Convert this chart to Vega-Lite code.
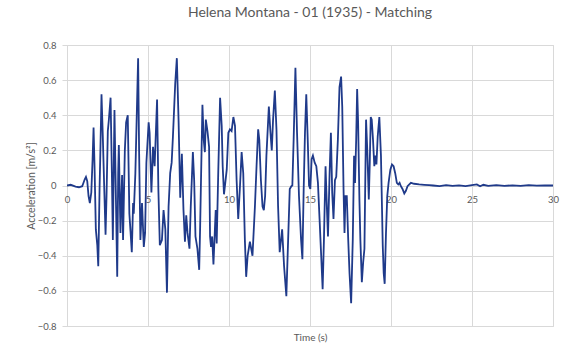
{
  "$schema": "https://vega.github.io/schema/vega-lite/v6.json",
  "width": 486,
  "height": 281,
  "autosize": {"type": "none"},
  "padding": {"left": 67, "top": 45, "right": 16, "bottom": 29},
  "background": "white",
  "title": {
    "text": "Helena Montana - 01 (1935) - Matching",
    "font": "Lato",
    "fontSize": 14,
    "fontWeight": "normal",
    "color": "#595959",
    "anchor": "middle",
    "offset": 20
  },
  "config": {
    "view": {"stroke": "#d9d9d9", "strokeWidth": 1},
    "axis": {"labelFont": "Lato", "titleFont": "Lato", "labelColor": "#595959", "titleColor": "#595959", "gridColor": "#d9d9d9", "gridWidth": 1}
  },
  "data": {
    "values": [
      {"t": 0, "a": 0}, {"t": 0.23, "a": 0.004}, {"t": 0.53, "a": -0.006}, {"t": 0.74, "a": -0.01}, {"t": 0.94, "a": -0.004},
      {"t": 1.09, "a": 0.034}, {"t": 1.17, "a": 0.049}, {"t": 1.25, "a": 0.025}, {"t": 1.33, "a": -0.06}, {"t": 1.41, "a": -0.1},
      {"t": 1.5, "a": -0.04}, {"t": 1.58, "a": 0.15}, {"t": 1.64, "a": 0.33}, {"t": 1.7, "a": 0.11}, {"t": 1.78, "a": -0.25},
      {"t": 1.87, "a": -0.34}, {"t": 1.93, "a": -0.46}, {"t": 2.01, "a": -0.02}, {"t": 2.05, "a": 0.15}, {"t": 2.13, "a": 0.52},
      {"t": 2.21, "a": 0.28}, {"t": 2.3, "a": -0.02}, {"t": 2.38, "a": -0.28}, {"t": 2.44, "a": -0.06}, {"t": 2.52, "a": 0.31},
      {"t": 2.58, "a": 0.37}, {"t": 2.69, "a": 0.5}, {"t": 2.77, "a": 0.07}, {"t": 2.83, "a": -0.31}, {"t": 2.93, "a": 0.43},
      {"t": 3.01, "a": -0.02}, {"t": 3.1, "a": -0.52}, {"t": 3.16, "a": 0.07}, {"t": 3.2, "a": 0.23}, {"t": 3.3, "a": -0.27},
      {"t": 3.4, "a": 0.06}, {"t": 3.46, "a": -0.31}, {"t": 3.57, "a": 0.2}, {"t": 3.65, "a": 0.36}, {"t": 3.75, "a": 0.4},
      {"t": 3.85, "a": -0.16}, {"t": 3.92, "a": -0.26}, {"t": 4.0, "a": -0.38}, {"t": 4.08, "a": -0.1}, {"t": 4.12, "a": -0.16},
      {"t": 4.22, "a": 0.07}, {"t": 4.28, "a": 0.3}, {"t": 4.39, "a": 0.725}, {"t": 4.45, "a": 0.2}, {"t": 4.53, "a": -0.31},
      {"t": 4.63, "a": -0.1}, {"t": 4.74, "a": -0.35}, {"t": 4.82, "a": -0.27}, {"t": 4.9, "a": 0.13}, {"t": 5.04, "a": 0.36},
      {"t": 5.1, "a": 0.3}, {"t": 5.21, "a": -0.04}, {"t": 5.31, "a": 0.22}, {"t": 5.41, "a": 0.11}, {"t": 5.56, "a": 0.49},
      {"t": 5.64, "a": -0.02}, {"t": 5.73, "a": -0.34}, {"t": 5.86, "a": -0.31}, {"t": 5.96, "a": -0.14}, {"t": 6.07, "a": -0.25},
      {"t": 6.17, "a": -0.61}, {"t": 6.27, "a": -0.12}, {"t": 6.37, "a": 0.07}, {"t": 6.46, "a": 0.13}, {"t": 6.54, "a": 0.28},
      {"t": 6.68, "a": 0.58}, {"t": 6.78, "a": 0.725}, {"t": 6.89, "a": 0.36}, {"t": 6.99, "a": -0.07}, {"t": 7.09, "a": 0.18},
      {"t": 7.19, "a": -0.14}, {"t": 7.28, "a": -0.32}, {"t": 7.36, "a": -0.17}, {"t": 7.44, "a": -0.27}, {"t": 7.56, "a": -0.36},
      {"t": 7.64, "a": -0.12}, {"t": 7.77, "a": 0.19}, {"t": 7.85, "a": 0.03}, {"t": 7.93, "a": -0.29}, {"t": 8.05, "a": -0.36},
      {"t": 8.16, "a": -0.48}, {"t": 8.22, "a": -0.23}, {"t": 8.28, "a": 0.07}, {"t": 8.36, "a": 0.46}, {"t": 8.44, "a": 0.26},
      {"t": 8.51, "a": 0.19}, {"t": 8.57, "a": 0.375}, {"t": 8.67, "a": 0.31}, {"t": 8.77, "a": 0.22}, {"t": 8.83, "a": -0.29},
      {"t": 8.89, "a": -0.35}, {"t": 8.96, "a": -0.29}, {"t": 9.04, "a": -0.45}, {"t": 9.12, "a": -0.27}, {"t": 9.18, "a": -0.14},
      {"t": 9.24, "a": -0.33}, {"t": 9.34, "a": 0.09}, {"t": 9.45, "a": 0.5}, {"t": 9.55, "a": 0.34}, {"t": 9.61, "a": 0.11},
      {"t": 9.69, "a": -0.05}, {"t": 9.77, "a": 0.015}, {"t": 9.86, "a": 0.09}, {"t": 9.96, "a": 0.3}, {"t": 10.06, "a": 0.32},
      {"t": 10.16, "a": 0.31}, {"t": 10.27, "a": 0.39}, {"t": 10.37, "a": 0.34}, {"t": 10.47, "a": 0.03}, {"t": 10.57, "a": -0.19},
      {"t": 10.68, "a": 0.0}, {"t": 10.78, "a": 0.19}, {"t": 10.88, "a": 0.07}, {"t": 10.98, "a": -0.31}, {"t": 11.06, "a": -0.52},
      {"t": 11.15, "a": -0.4}, {"t": 11.29, "a": -0.32}, {"t": 11.45, "a": -0.4}, {"t": 11.6, "a": -0.12}, {"t": 11.7, "a": 0.11},
      {"t": 11.8, "a": 0.32}, {"t": 11.87, "a": 0.26}, {"t": 11.97, "a": 0.03}, {"t": 12.07, "a": -0.12}, {"t": 12.15, "a": -0.14},
      {"t": 12.23, "a": -0.06}, {"t": 12.31, "a": 0.17}, {"t": 12.46, "a": 0.45}, {"t": 12.56, "a": 0.3}, {"t": 12.64, "a": 0.2},
      {"t": 12.72, "a": 0.375}, {"t": 12.83, "a": 0.54}, {"t": 12.93, "a": 0.32}, {"t": 13.03, "a": -0.12}, {"t": 13.13, "a": -0.38},
      {"t": 13.28, "a": -0.25}, {"t": 13.4, "a": -0.46}, {"t": 13.54, "a": -0.63}, {"t": 13.65, "a": -0.31}, {"t": 13.75, "a": -0.02},
      {"t": 13.85, "a": -0.004}, {"t": 13.91, "a": 0.0}, {"t": 13.99, "a": 0.26}, {"t": 14.1, "a": 0.67}, {"t": 14.2, "a": 0.3},
      {"t": 14.32, "a": -0.06}, {"t": 14.45, "a": -0.31}, {"t": 14.53, "a": -0.42}, {"t": 14.61, "a": -0.02}, {"t": 14.69, "a": 0.3},
      {"t": 14.77, "a": 0.52}, {"t": 14.86, "a": 0.26}, {"t": 14.94, "a": 0.0}, {"t": 15.02, "a": -0.02}, {"t": 15.1, "a": 0.15},
      {"t": 15.18, "a": 0.17}, {"t": 15.29, "a": 0.13}, {"t": 15.39, "a": 0.11}, {"t": 15.49, "a": 0.015}, {"t": 15.59, "a": -0.19},
      {"t": 15.7, "a": -0.42}, {"t": 15.78, "a": -0.59}, {"t": 15.86, "a": -0.31}, {"t": 15.96, "a": 0.11}, {"t": 16.04, "a": -0.12},
      {"t": 16.11, "a": -0.29}, {"t": 16.21, "a": 0.07}, {"t": 16.29, "a": 0.3}, {"t": 16.37, "a": -0.04}, {"t": 16.45, "a": -0.19},
      {"t": 16.54, "a": 0.03}, {"t": 16.62, "a": 0.05}, {"t": 16.72, "a": 0.26}, {"t": 16.82, "a": 0.56}, {"t": 16.92, "a": 0.62},
      {"t": 16.99, "a": 0.45}, {"t": 17.07, "a": -0.02}, {"t": 17.13, "a": -0.27}, {"t": 17.19, "a": -0.06}, {"t": 17.27, "a": -0.06},
      {"t": 17.36, "a": -0.31}, {"t": 17.44, "a": -0.5}, {"t": 17.54, "a": -0.67}, {"t": 17.64, "a": -0.31}, {"t": 17.72, "a": 0.17},
      {"t": 17.78, "a": 0.015}, {"t": 17.85, "a": 0.26}, {"t": 17.91, "a": 0.55}, {"t": 17.97, "a": 0.36}, {"t": 18.05, "a": -0.08},
      {"t": 18.11, "a": -0.31}, {"t": 18.2, "a": -0.55}, {"t": 18.28, "a": -0.44}, {"t": 18.36, "a": -0.36}, {"t": 18.46, "a": 0.375},
      {"t": 18.54, "a": 0.19}, {"t": 18.63, "a": -0.08}, {"t": 18.69, "a": 0.13}, {"t": 18.75, "a": 0.39}, {"t": 18.81, "a": 0.375},
      {"t": 18.89, "a": 0.26}, {"t": 18.97, "a": 0.11}, {"t": 19.04, "a": 0.17}, {"t": 19.1, "a": 0.12}, {"t": 19.18, "a": 0.28},
      {"t": 19.28, "a": 0.39}, {"t": 19.38, "a": 0.17}, {"t": 19.49, "a": -0.34}, {"t": 19.55, "a": -0.5}, {"t": 19.61, "a": -0.56},
      {"t": 19.69, "a": -0.27}, {"t": 19.77, "a": -0.06}, {"t": 19.85, "a": 0.015}, {"t": 19.96, "a": 0.09}, {"t": 20.06, "a": 0.12},
      {"t": 20.16, "a": 0.11}, {"t": 20.26, "a": 0.07}, {"t": 20.36, "a": 0.015}, {"t": 20.45, "a": 0.006}, {"t": 20.53, "a": 0.015},
      {"t": 20.61, "a": -0.004}, {"t": 20.71, "a": -0.02}, {"t": 20.82, "a": -0.045}, {"t": 20.92, "a": -0.03}, {"t": 21.02, "a": -0.004},
      {"t": 21.23, "a": 0.015}, {"t": 21.43, "a": 0.01}, {"t": 21.74, "a": 0.006}, {"t": 22.05, "a": 0.004}, {"t": 22.35, "a": 0.002},
      {"t": 22.6, "a": 0.0}, {"t": 23.0, "a": -0.003}, {"t": 23.4, "a": 0.002}, {"t": 23.8, "a": -0.002}, {"t": 24.2, "a": 0.001},
      {"t": 24.6, "a": -0.003}, {"t": 25.0, "a": 0.002}, {"t": 25.3, "a": 0.006}, {"t": 25.5, "a": -0.004}, {"t": 25.7, "a": 0.004},
      {"t": 26.0, "a": -0.002}, {"t": 26.5, "a": 0.002}, {"t": 27.0, "a": -0.002}, {"t": 27.5, "a": 0.001}, {"t": 28.0, "a": -0.002},
      {"t": 28.5, "a": 0.002}, {"t": 29.0, "a": -0.001}, {"t": 29.5, "a": 0.001}, {"t": 30.0, "a": 0.0}
    ]
  },
  "mark": {"type": "line", "color": "#1F3A8A", "strokeWidth": 1.8, "clip": true},
  "encoding": {
    "x": {
      "field": "t",
      "type": "quantitative",
      "scale": {"domain": [0, 30], "nice": false, "zero": false},
      "axis": {
        "title": "Time (s)",
        "values": [0, 5, 10, 15, 20, 25, 30],
        "offset": -140,
        "domain": false,
        "ticks": false,
        "grid": true,
        "labelFontSize": 9.5,
        "labelPadding": 8,
        "labelAlign": "center",
        "titleFontSize": 10,
        "titleFontWeight": "normal",
        "titleBaseline": "middle",
        "titleY": 151
      }
    },
    "y": {
      "field": "a",
      "type": "quantitative",
      "scale": {"domain": [-0.8, 0.8], "nice": false},
      "axis": {
        "title": "Acceleration [m/s²]",
        "values": [-0.8, -0.6, -0.4, -0.2, 0, 0.2, 0.4, 0.6, 0.8],
        "format": ".1~f",
        "domain": false,
        "ticks": true,
        "tickColor": "#d9d9d9",
        "tickSize": 5,
        "labelPadding": 6,
        "labelFontSize": 9.5,
        "titleFontSize": 10.5,
        "titleFontWeight": "normal",
        "titlePadding": 1
      }
    }
  }
}
